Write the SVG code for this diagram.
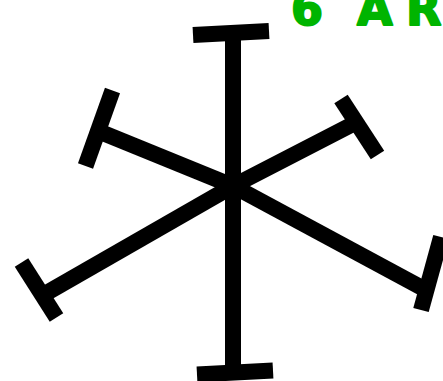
<svg xmlns="http://www.w3.org/2000/svg" width="443" height="381" viewBox="0 0 443 381">
<style>
.s{stroke:#000;stroke-width:16;stroke-linecap:butt;fill:none}
.t{font-family:"Comic Sans MS","DejaVu Sans",sans-serif;font-weight:bold;font-size:46px;fill:#00b400;stroke:#00b400;stroke-width:2;stroke-linejoin:round}
</style>
<rect width="443" height="381" fill="#fff"/>
<g id="connectors">
<line class="s" x1="233" y1="33" x2="233" y2="372"/>
<line class="s" x1="233" y1="186" x2="98" y2="131"/>
<line class="s" x1="233" y1="186" x2="357" y2="122"/>
<line class="s" x1="233" y1="186" x2="43" y2="295"/>
<line class="s" x1="233" y1="186" x2="426" y2="290"/>
</g>
<g id="hub"><circle cx="233" cy="186" r="13" fill="#000"/></g>
<g id="top"><line class="s" x1="193" y1="35" x2="269" y2="31"/></g>
<g id="bottom"><line class="s" x1="197" y1="374.5" x2="273" y2="370.5"/></g>
<g id="upper-left"><line class="s" x1="112.5" y1="90.5" x2="85.5" y2="166"/></g>
<g id="upper-right"><line class="s" x1="341" y1="99" x2="377.5" y2="155"/></g>
<g id="lower-left"><line class="s" x1="21.5" y1="262.5" x2="56.5" y2="317.5"/></g>
<g id="lower-right"><line class="s" x1="421" y1="310" x2="441" y2="237"/></g>
<g id="title"><text class="t" x="291 330 357 406" y="25">6 AR</text></g>
</svg>
